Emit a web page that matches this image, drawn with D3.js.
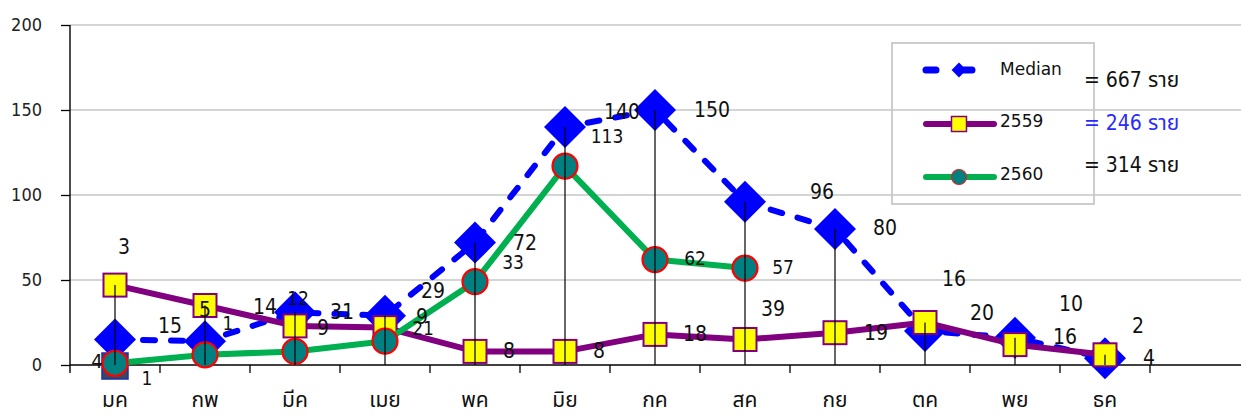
<!DOCTYPE html>
<html>
<head>
<meta charset="utf-8">
<script src="https://cdn.jsdelivr.net/npm/d3@7"></script>
<style>
  html, body { margin: 0; padding: 0; background: #fff; }
  svg { display: block; }
</style>
</head>
<body>
<svg id="chart" width="1241" height="416"></svg>
<script>
// ---------------- data ----------------
const categories = ["มค", "กพ", "มีค", "เมย", "พค", "มิย", "กค", "สค", "กย", "ตค", "พย", "ธค"];
const medianValues = [15, 14, 31, 29, 72, 140, 150, 96, 80, 20, 16, 4];
const values2559 = [47, 35, 23, 22, 8, 8, 18, 15, 19, 25, 12, 6];
const values2560 = [1, 6, 8, 14, 49, 117, 62, 57];
const medianLabels = ["15", "14", "31", "29", "72", "140", "150", "96", "80", "20", "16", "4"];
const labels2559 = ["3", "5", "9", "9", "8", "8", "18", "39", "19", "16", "10", "2"];
const labels2560 = ["1", "1", "12", "21", "33", "113", "62", "57"];
const extraValues = [0];
const extraLabels = ["4"];
const yTicks = [0, 50, 100, 150, 200];
const seriesNames = ["Median", "2559", "2560"];
const totals = ["= 667 ราย", "= 246 ราย", "= 314 ราย"];

// ---------------- style (label offsets in px) ----------------
const medianOff = [[55,-14],[60,-34],[47,0],[48,-25],[50,0],[57,-15],[57,0],[77,-10],[50,-1],[57,-18],[50,-1],[44,0]];
const off2559 = [[9,-38],[0,4],[28,2],[37,-11],[34,0],[34,0],[40,0],[28,-31],[41,0],[29,-44],[56,-41],[33,-29]];
const off2560 = [[32,15],[23,-32],[3,-53],[38,-13],[38,-20],[42,-30],[40,-2],[38,-1]];
const extraOff = [[-18,-4]];

const NUMFONT = '"DejaVu Sans Condensed", "DejaVu Sans", sans-serif';
const svg = d3.select("#chart");

const x = d3.scaleBand().domain(categories.concat([" "])).range([70, 1240]).padding(0);
const cx = d => x(d) + x.bandwidth() / 2;
const y = d3.scaleLinear().domain([0, 200]).range([365, 25]);

// gridlines
svg.append("g").selectAll("line").data(yTicks.filter(t => t > 0)).join("line")
  .attr("x1", 70).attr("x2", 1241)
  .attr("y1", d => y(d)).attr("y2", d => y(d))
  .attr("stroke", "#c6c6c6").attr("stroke-width", 1.6);

// y axis
const yAxis = svg.append("g").attr("transform", "translate(70,0)")
  .call(d3.axisLeft(y).tickValues(yTicks).tickSize(9).tickPadding(19));
yAxis.select(".domain").remove();
yAxis.selectAll(".tick line").attr("stroke", "#000").attr("stroke-width", 1.3);
yAxis.selectAll(".tick text").attr("font-family", NUMFONT).attr("font-size", 18).attr("fill", "#222");
svg.append("line").attr("x1", 70).attr("x2", 70).attr("y1", y(200)).attr("y2", 373)
  .attr("stroke", "#000").attr("stroke-width", 1.4);

// x axis
const xAxis = svg.append("g").attr("transform", "translate(0,365)")
  .call(d3.axisBottom(x).tickSize(0).tickPadding(27));
xAxis.select(".domain").remove();
xAxis.selectAll(".tick text").attr("font-family", '"Noto Sans Thai", "Noto Sans", "DejaVu Sans", sans-serif')
  .attr("font-size", 21).attr("fill", "#111");
svg.append("line").attr("x1", 70).attr("x2", 1241).attr("y1", 365).attr("y2", 365)
  .attr("stroke", "#000").attr("stroke-width", 1.4);
svg.append("g").selectAll("line").data(categories.slice(1).concat([" "])).join("line")
  .attr("x1", d => x(d)).attr("x2", d => x(d)).attr("y1", 365).attr("y2", 373)
  .attr("stroke", "#000").attr("stroke-width", 1.3);

// extra dark marker at Jan
svg.append("g").selectAll("rect").data(extraValues).join("rect")
  .attr("x", (d, i) => cx(categories[i]) - 13).attr("y", (d) => y(d) - 12)
  .attr("width", 26).attr("height", 26)
  .attr("fill", "#3c4760").attr("stroke", "#1b2fa8").attr("stroke-width", 1.5);

// median series
const line = d3.line().x((d, i) => cx(categories[i])).y(d => y(d));
svg.append("path").datum(medianValues).attr("d", line)
  .attr("fill", "none").attr("stroke", "#0000ff").attr("stroke-width", 6)
  .attr("stroke-dasharray", "12,16").attr("stroke-linecap", "round");
const diamond = d3.symbol().type(d3.symbolSquare).size(880);
svg.append("g").selectAll("path").data(medianValues).join("path")
  .attr("d", diamond)
  .attr("transform", (d, i) => `translate(${cx(categories[i])},${y(d)}) rotate(45)`)
  .attr("fill", "#0000ff");

// 2559 series
svg.append("path").datum(values2559).attr("d", line)
  .attr("fill", "none").attr("stroke", "#800080").attr("stroke-width", 6).attr("stroke-linejoin", "round");
svg.append("g").selectAll("rect").data(values2559).join("rect")
  .attr("x", (d, i) => cx(categories[i]) - 11.5).attr("y", d => y(d) - 11.5)
  .attr("width", 23).attr("height", 23)
  .attr("fill", "#ffff00").attr("stroke", "#800080").attr("stroke-width", 2);

// 2560 series
svg.append("path").datum(values2560).attr("d", line)
  .attr("fill", "none").attr("stroke", "#00b050").attr("stroke-width", 6).attr("stroke-linejoin", "round");
svg.append("g").selectAll("circle").data(values2560).join("circle")
  .attr("cx", (d, i) => cx(categories[i])).attr("cy", d => y(d)).attr("r", 12.5)
  .attr("fill", "#008080").attr("stroke", "#ff0000").attr("stroke-width", 2.2);

// drop lines from highest value to axis
const maxVals = categories.map((c, i) => d3.max([medianValues[i], values2559[i], values2560[i]].filter(v => v !== undefined)));
svg.append("g").selectAll("line").data(maxVals).join("line")
  .attr("x1", (d, i) => cx(categories[i])).attr("x2", (d, i) => cx(categories[i]))
  .attr("y1", d => y(d)).attr("y2", y(0))
  .attr("stroke", "#000").attr("stroke-width", 1.2);

// data labels
function addLabels(vals, labs, offs, size) {
  svg.append("g").selectAll("text").data(vals).join("text")
    .attr("x", (d, i) => cx(categories[i]) + offs[i][0])
    .attr("y", (d, i) => y(d) + offs[i][1])
    .attr("text-anchor", "middle").attr("dominant-baseline", "central")
    .attr("font-family", NUMFONT).attr("font-size", size).attr("fill", "#111")
    .text((d, i) => labs[i]);
}
addLabels(extraValues, extraLabels, extraOff, 20);
addLabels(medianValues, medianLabels, medianOff, 21);
addLabels(values2559, labels2559, off2559, 21);
addLabels(values2560, labels2560, off2560, 19);

// legend
const lg = svg.append("g");
lg.append("rect").attr("x", 892).attr("y", 43).attr("width", 202).attr("height", 161)
  .attr("fill", "none").attr("stroke", "#c8c8c8").attr("stroke-width", 1.8);
const rowsY = [70, 124, 177];
// median row
lg.append("line").attr("x1", 926).attr("x2", 994).attr("y1", rowsY[0]).attr("y2", rowsY[0])
  .attr("stroke", "#0000ff").attr("stroke-width", 7).attr("stroke-linecap", "round").attr("stroke-dasharray", "10,26");
lg.append("path").attr("d", d3.symbol().type(d3.symbolSquare).size(110))
  .attr("transform", `translate(959,${rowsY[0]}) rotate(45)`).attr("fill", "#0000ff");
// 2559 row
lg.append("line").attr("x1", 926).attr("x2", 994).attr("y1", rowsY[1]).attr("y2", rowsY[1])
  .attr("stroke", "#800080").attr("stroke-width", 6).attr("stroke-linecap", "round");
lg.append("rect").attr("x", 951.5).attr("y", rowsY[1] - 7.5).attr("width", 15).attr("height", 15)
  .attr("fill", "#ffff00").attr("stroke", "#800080").attr("stroke-width", 1.5);
// 2560 row
lg.append("line").attr("x1", 926).attr("x2", 994).attr("y1", rowsY[2]).attr("y2", rowsY[2])
  .attr("stroke", "#00b050").attr("stroke-width", 6).attr("stroke-linecap", "round");
lg.append("circle").attr("cx", 959).attr("cy", rowsY[2]).attr("r", 7.5)
  .attr("fill", "#008080").attr("stroke", "#e02020").attr("stroke-width", 1.2);
lg.selectAll("text.name").data(seriesNames).join("text").attr("class", "name")
  .attr("x", 1000).attr("y", (d, i) => rowsY[i] - (i === 0 ? 1 : 3))
  .attr("dominant-baseline", "central")
  .attr("font-family", '"DejaVu Sans", sans-serif').attr("font-size", 17).attr("fill", "#111")
  .text(d => d);

// totals
const totalsY = [87, 130, 172];
svg.append("g").selectAll("text").data(totals).join("text")
  .attr("x", 1084).attr("y", (d, i) => totalsY[i])
  .attr("font-family", '"DejaVu Sans Condensed", "DejaVu Sans", "Noto Sans Thai", sans-serif')
  .attr("font-size", 21)
  .attr("fill", (d, i) => i === 1 ? "#2a2aff" : "#111")
  .text(d => d);
</script>
</body>
</html>
